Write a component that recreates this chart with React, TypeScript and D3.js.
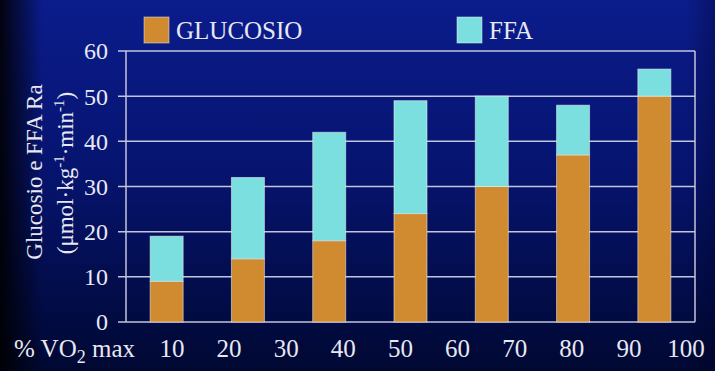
import React from 'react';
import * as d3 from 'd3';

// Stages shown as bars (one per workload step)
const stages = ['1', '2', '3', '4', '5', '6', '7'];
// Glucose Ra (µmol·kg-1·min-1) per stage
const glucose = [9, 14, 18, 24, 30, 37, 50];
// FFA Ra, stacked on top of glucose
const ffa = [10, 18, 24, 25, 20, 11, 6];
// Axis ticks
const yTicks = [0, 10, 20, 30, 40, 50, 60];
const xTicks = [10, 20, 30, 40, 50, 60, 70, 80, 90, 100];

const W = 715;
const H = 371;
const plot = { left: 126, right: 695, top: 51, bottom: 322 };

const ORANGE = '#d08a30';
const CYAN = '#7cdfdf';
const GRID = '#c4c4dc';
const TEXT = '#e8e8f2';
const FONT = '"Liberation Serif", "DejaVu Serif", serif';

export default function App() {
  const y = d3.scaleLinear().domain([0, 60]).range([plot.bottom, plot.top]);
  const x = d3.scaleBand<string>()
    .domain(stages)
    .range([plot.left, plot.right])
    .paddingInner(0.594)
    .paddingOuter(0.297);
  // the % VO2 max labels run on their own evenly spaced scale
  const xl = d3.scaleLinear().domain([10, 100]).range([172, 686]);

  const stacked = d3.stack<number>()
    .keys(['glucose', 'ffa'])
    .value((i, key) => (key === 'glucose' ? glucose[i] : ffa[i]))(d3.range(stages.length));
  const colors = [ORANGE, CYAN];

  return (
    <svg width={W} height={H} style={{ position: 'absolute', left: 0, top: 0 }} fontFamily={FONT}>
      <defs>
        <linearGradient id="bgV" x1="0" y1="0" x2="0" y2="1">
          <stop offset="0" stopColor="#0b1c8c" />
          <stop offset="0.45" stopColor="#061470" />
          <stop offset="1" stopColor="#000832" />
        </linearGradient>
        <linearGradient id="bgH" x1="0" y1="0" x2="1" y2="0">
          <stop offset="0" stopColor="#000000" stopOpacity="0.9" />
          <stop offset="0.06" stopColor="#000000" stopOpacity="0" />
          <stop offset="0.96" stopColor="#000000" stopOpacity="0" />
          <stop offset="1" stopColor="#000020" stopOpacity="0.3" />
        </linearGradient>
      </defs>
      <rect width={W} height={H} fill="url(#bgV)" />
      <rect width={W} height={H} fill="url(#bgH)" />

      {/* grid + frame */}
      <g stroke={GRID} strokeWidth={1.5}>
        {yTicks.map(t => (
          <line key={t} x1={plot.left - 8} x2={plot.right} y1={y(t)} y2={y(t)} />
        ))}
        <line x1={plot.left} x2={plot.left} y1={plot.top} y2={plot.bottom} />
        <line x1={plot.right} x2={plot.right} y1={plot.top} y2={plot.bottom} />
      </g>

      {/* bars */}
      {stacked.map((layer, li) => (
        <g key={li} fill={colors[li]} stroke="#f0f0f0" strokeOpacity={0.55} strokeWidth={1}>
          {layer.map((d, i) => (
            <rect
              key={i}
              x={x(stages[i])}
              width={x.bandwidth()}
              y={y(d[1])}
              height={y(d[0]) - y(d[1])}
            />
          ))}
        </g>
      ))}

      {/* y tick labels */}
      <g fill={TEXT} fontSize={24} textAnchor="end">
        {yTicks.map(t => (
          <text key={t} x={108} y={y(t)} dy="0.35em">{t}</text>
        ))}
      </g>

      {/* x tick labels */}
      <g fill={TEXT} fontSize={25} textAnchor="middle">
        {xTicks.map(t => (
          <text key={t} x={xl(t)} y={357}>{t}</text>
        ))}
      </g>
      <text x={14} y={357} fill={TEXT} fontSize={25}>
        % VO<tspan fontSize={18} dy={6}>2</tspan><tspan dy={-6}> max</tspan>
      </text>

      {/* y axis title */}
      <g fill={TEXT} fontSize={23} textAnchor="middle">
        <text transform="translate(42,172) rotate(-90)">Glucosio e FFA Ra</text>
        <text transform="translate(73,173) rotate(-90)">
          (μmol·kg<tspan fontSize={15} dy={-9}>-1</tspan><tspan dy={9}>·min</tspan><tspan fontSize={15} dy={-9}>-1</tspan><tspan dy={9}>)</tspan>
        </text>
      </g>

      {/* legend */}
      <g fontSize={25} fill={TEXT}>
        <rect x={144} y={17} width={25} height={26} fill={ORANGE} stroke="#f0f0f0" strokeOpacity={0.5} />
        <text x={176} y={39}>GLUCOSIO</text>
        <rect x={457} y={17} width={25} height={26} fill={CYAN} stroke="#f0f0f0" strokeOpacity={0.5} />
        <text x={489} y={39}>FFA</text>
      </g>
    </svg>
  );
}
